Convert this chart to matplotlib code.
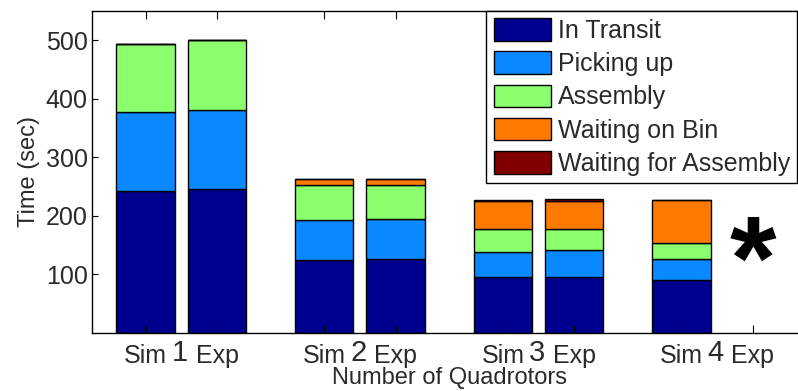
import matplotlib
matplotlib.use("Agg")
import matplotlib.pyplot as plt
import numpy as np

plt.rcParams['font.family'] = ['Liberation Sans', 'DejaVu Sans']

groups = ["1", "2", "3", "4"]
bar_labels = ["Sim", "Exp"]
series = ["In Transit", "Picking up", "Assembly", "Waiting on Bin", "Waiting for Assembly"]
colors = ["#00008F", "#0A88FF", "#8CFF6E", "#FF7A00", "#800000"]

# values per series: order Sim1, Exp1, Sim2, Exp2, Sim3, Exp3, Sim4, Exp4 (missing)
in_transit = [242, 245, 125, 127, 95, 95, 91, 0]
picking_up = [135, 135, 68, 68, 44, 47, 36, 0]
assembly = [117, 120, 59, 57, 38, 36, 26, 0]
waiting_bin = [0, 0, 11, 10, 48, 48, 74, 0]
waiting_assembly = [0, 0, 0, 0, 1.5, 2, 0, 0]
values = [in_transit, picking_up, assembly, waiting_bin, waiting_assembly]

fig = plt.figure(figsize=(7.98, 3.91), dpi=100)
ax = fig.add_axes([92/798, 58/391, (806.5-92)/798, (333-10.7)/391])

gpos = np.arange(1, 5)
offs = 0.2
xpos = np.ravel(np.column_stack([gpos - offs, gpos + offs]))
bottom = np.zeros(len(xpos))
handles = []
for vals, col, name in zip(values, colors, series):
    v = np.array(vals, dtype=float)
    mask = np.ones(len(xpos), bool)
    mask[-1] = False
    b = ax.bar(xpos[mask], v[mask], 0.327, bottom=bottom[mask], color=col,
               edgecolor='black', linewidth=1.0, label=name)
    handles.append(b)
    bottom += v

ax.set_xlim(0.5, 4.5)
ax.set_ylim(0, 550)
ax.set_yticks([100, 200, 300, 400, 500])
ax.set_xticks(xpos)
ax.set_xticklabels(bar_labels * 4, fontsize=18, color='#2a2a2a')
ax.tick_params(axis='x', direction='in', length=6, top=True, pad=8)
ax.tick_params(axis='y', direction='in', length=4, labelsize=18, pad=3, labelcolor='#2a2a2a')
for g, lab in zip(gpos, groups):
    ax.text(g - 0.01, -0.018, lab, transform=ax.get_xaxis_transform(),
            ha='center', va='top', fontsize=21, color='#2a2a2a')
ax.set_xlabel("Number of Quadrotors", fontsize=17, labelpad=-1, color='#2a2a2a')
ax.set_ylabel("Time (sec)", fontsize=17, labelpad=4, color='#2a2a2a')
for s in ax.spines.values():
    s.set_linewidth(1.0)

ax.text(4.2, 111, "*", ha='center', va='center', fontsize=86,
        fontweight='bold', color='black')

leg = fig.legend(handles=handles, labels=series, loc='upper left',
                 bbox_to_anchor=(486/798, 1 - 10.7/391), bbox_transform=fig.transFigure,
                 fontsize=18, handlelength=2.28, handleheight=1.0, labelspacing=0.34,
                 handletextpad=0.28, borderpad=0.3, borderaxespad=0, fancybox=False,
                 framealpha=1, edgecolor='black')
leg.get_frame().set_linewidth(1.0)
for t in leg.get_texts():
    t.set_color('#2a2a2a')

fig.savefig("out.png", dpi=100)
